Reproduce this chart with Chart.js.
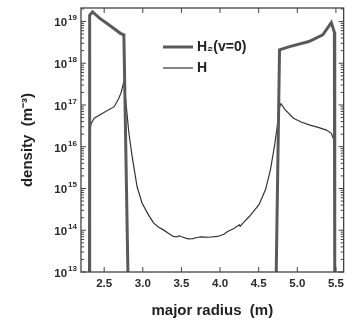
<!DOCTYPE html>
<html>
<head>
<meta charset="utf-8">
<script src="https://cdn.jsdelivr.net/npm/chart.js@4"></script>
<style>
  body { margin: 0; background: #fff; }
</style>
</head>
<body>
<canvas id="myChart" width="349" height="322"></canvas>
<script>
// tick values
const xTicks = [2.5, 3.0, 3.5, 4.0, 4.5, 5.0, 5.5];
const yDecades = [13, 14, 15, 16, 17, 18, 19];

// H2(v=0) density (null = gap)
const h2R = [2.31, 2.312, 2.35, 2.44, 2.56, 2.71, 2.755, 2.81, 3.5, 4.725, 4.77, 4.9, 5.15, 5.33, 5.44, 5.48, 5.485];
const h2N = [5e12, 1.4e19, 1.7e19, 1.2e19, 8.3e18, 5.2e18, 4.8e18, 5e12, null, 5e12, 2.1e18, 2.5e18, 3.3e18, 4.8e18, 9.4e18, 5.5e18, 5e12];

// H density
const hR = [2.30, 2.31, 2.33, 2.37, 2.48, 2.63, 2.69, 2.72, 2.755, 2.785, 2.82, 2.862, 2.926, 2.99, 3.075, 3.139, 3.20, 3.267, 3.33, 3.395, 3.45, 3.47, 3.50, 3.587, 3.65, 3.70, 3.757, 3.85, 3.97, 4.05, 4.098, 4.18, 4.248, 4.26, 4.30, 4.376, 4.504, 4.588, 4.652, 4.703, 4.74, 4.772, 4.789, 4.844, 4.951, 5.05, 5.164, 5.27, 5.377, 5.441, 5.47, 5.48, 5.485];
const hN = [5e12, 2.1e16, 3.5e16, 4.8e16, 6.3e16, 9.1e16, 1.45e17, 2.0e17, 3.6e17, 1.0e17, 2.1e16, 5.9e15, 1.1e15, 4.5e14, 2.3e14, 1.5e14, 1.2e14, 1.02e14, 8.5e13, 7.1e13, 6.9e13, 7.4e13, 7.0e13, 6.2e13, 6.3e13, 6.7e13, 6.9e13, 6.8e13, 7.1e13, 8.0e13, 9.3e13, 1.1e14, 1.35e14, 1.25e14, 1.5e14, 2.1e14, 4.1e14, 9.3e14, 2.8e15, 1.0e16, 3.0e16, 9.1e16, 1.07e17, 7.6e16, 4.8e16, 3.9e16, 3.3e16, 2.9e16, 2.5e16, 2.1e16, 1.5e16, 1.0e16, 5e12];

const FONT = '"Liberation Sans", Arial, sans-serif';

// frame, inward ticks, power-of-ten labels and the legend inside the plot
const framePlugin = {
    id: 'frame',
    afterDatasetsDraw(chart) {
        const { ctx, chartArea: a, scales } = chart;
        ctx.save();
        ctx.strokeStyle = '#444';
        ctx.lineWidth = 1.3;
        ctx.strokeRect(a.left, a.top, a.right - a.left, a.bottom - a.top);
        ctx.lineWidth = 1;
        ctx.beginPath();
        xTicks.forEach(v => {
            const px = scales.x.getPixelForValue(v);
            ctx.moveTo(px, a.bottom); ctx.lineTo(px, a.bottom - 5);
            ctx.moveTo(px, a.top); ctx.lineTo(px, a.top + 5);
        });
        yDecades.forEach(e => {
            for (let m = 1; m <= 9; m++) {
                const v = m * Math.pow(10, e);
                if (v > scales.y.max) break;
                const py = scales.y.getPixelForValue(v);
                const len = m === 1 ? 5 : 3;
                ctx.moveTo(a.left, py); ctx.lineTo(a.left + len, py);
                ctx.moveTo(a.right, py); ctx.lineTo(a.right - len, py);
            }
        });
        ctx.stroke();

        // y tick labels 10^n
        ctx.fillStyle = '#2a2a2a';
        ctx.textBaseline = 'alphabetic';
        yDecades.forEach(e => {
            const py = scales.y.getPixelForValue(Math.pow(10, e));
            ctx.textAlign = 'left';
            ctx.font = 'bold 8px ' + FONT;
            const ew = ctx.measureText(String(e)).width;
            const ex = a.left - 4 - ew;
            ctx.fillText(String(e), ex, py - 1);
            ctx.textAlign = 'right';
            ctx.font = 'bold 11.5px ' + FONT;
            ctx.fillText('10', ex - 1, py + 5);
        });

        // legend
        const rows = [[163, 193, 47], [163, 193, 68]];
        chart.data.datasets.forEach((ds, i) => {
            const [x0, x1, y] = rows[i];
            ctx.strokeStyle = ds.borderColor;
            ctx.lineWidth = ds.borderWidth;
            ctx.beginPath();
            ctx.moveTo(x0, y); ctx.lineTo(x1, y);
            ctx.stroke();
            ctx.fillStyle = '#222';
            ctx.textAlign = 'left';
            ctx.textBaseline = 'middle';
            ctx.font = 'bold 14px ' + FONT;
            ctx.fillText(ds.label, x1 + 4, y);
        });
        ctx.restore();
    }
};

new Chart(document.getElementById('myChart'), {
    type: 'line',
    data: {
        datasets: [{
            label: 'H₂(v=0)',
            data: h2R.map((r, i) => ({ x: r, y: h2N[i] })),
            borderColor: '#5a5a5a',
            borderWidth: 3,
            pointRadius: 0,
            spanGaps: false
        }, {
            label: 'H',
            data: hR.map((r, i) => ({ x: r, y: hN[i] })),
            borderColor: '#333',
            borderWidth: 1.2,
            pointRadius: 0
        }]
    },
    options: {
        responsive: false,
        animation: false,
        layout: { padding: { top: 8, right: 3, left: 0, bottom: 0 } },
        plugins: { legend: { display: false }, tooltip: { enabled: false } },
        scales: {
            x: {
                type: 'linear',
                min: 2.2,
                max: 5.6,
                afterBuildTicks: s => { s.ticks = xTicks.map(v => ({ value: v })); },
                afterFit: s => { s.height = 50; },
                grid: { display: false, drawTicks: false },
                border: { display: false },
                ticks: {
                    padding: 5,
                    color: '#2a2a2a',
                    font: { family: FONT, size: 11.5, weight: 'bold' },
                    callback: v => v.toFixed(1)
                },
                title: {
                    display: true,
                    text: 'major radius  (m)',
                    color: '#222',
                    font: { family: FONT, size: 15, weight: 'bold' },
                    padding: { top: 0, bottom: 2 }
                }
            },
            y: {
                type: 'logarithmic',
                min: 1e13,
                max: 2.1e19,
                afterBuildTicks: s => { s.ticks = yDecades.map(e => ({ value: Math.pow(10, e) })); },
                afterFit: s => { s.width = 81; },
                grid: { display: false, drawTicks: false },
                border: { display: false },
                ticks: { display: false },
                title: {
                    display: true,
                    text: 'density  (m⁻³)',
                    color: '#222',
                    font: { family: FONT, size: 15, weight: 'bold' },
                    padding: { top: 19, bottom: 0 }
                }
            }
        }
    },
    plugins: [framePlugin]
});
</script>
</body>
</html>
